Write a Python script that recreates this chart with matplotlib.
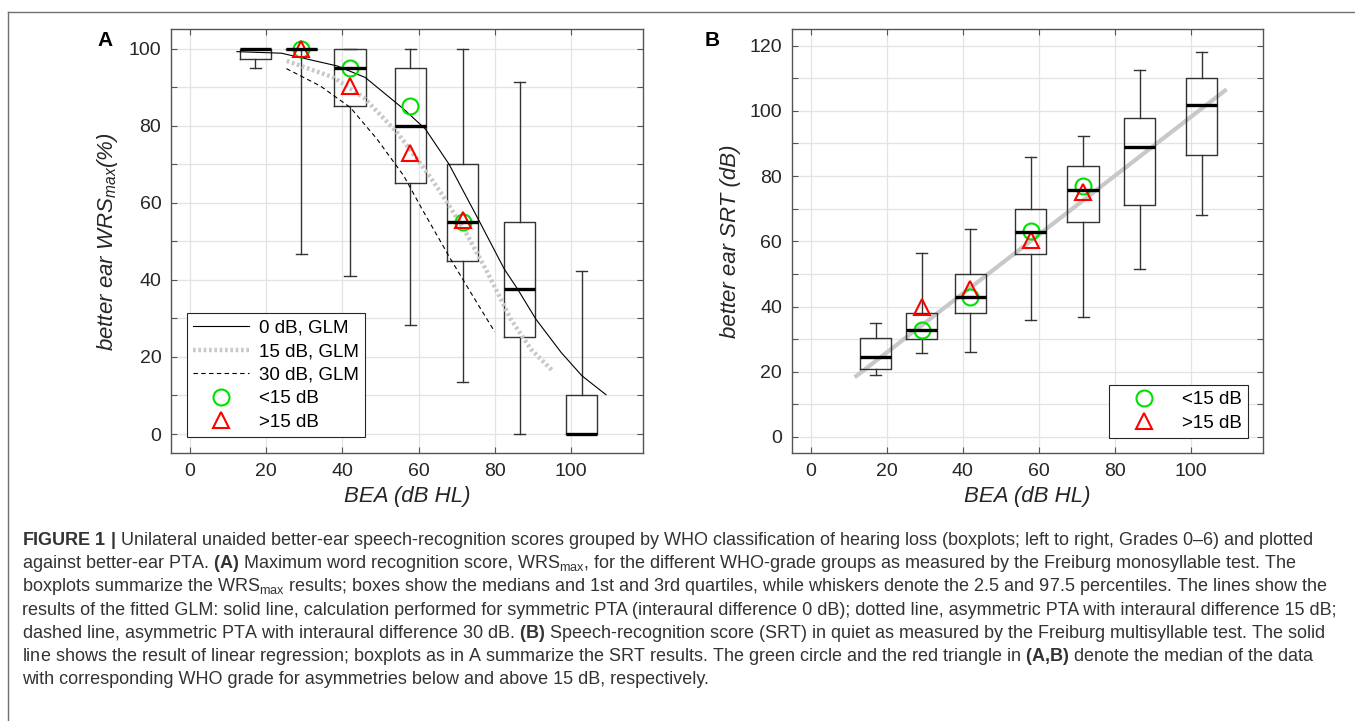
import numpy as np
import matplotlib
matplotlib.use("Agg")
import matplotlib.pyplot as plt
from matplotlib import font_manager
from matplotlib.lines import Line2D

names = {f.name for f in font_manager.fontManager.ttflist}
cap_font = 'Liberation Sans Narrow' if 'Liberation Sans Narrow' in names else 'Liberation Sans'

plt.rcParams['font.family'] = ['Liberation Sans', 'DejaVu Sans']
plt.rcParams['mathtext.fontset'] = 'custom'
plt.rcParams['mathtext.rm'] = cap_font
plt.rcParams['mathtext.bf'] = cap_font + ':bold'
plt.rcParams['mathtext.it'] = 'Liberation Sans:italic'

nan = np.nan
# median BEA of each WHO grade group (grades 0-6)
bea = [17.1, 29.2, 42.0, 57.8, 71.6, 86.5, 102.8]

# panel A: WRSmax boxplots
wrs_med = [100, 100, 95, 80, 55, 37.7, 0]
wrs_q1 = [97.3, 100, 85, 65.1, 45, 25.2, 0]
wrs_q3 = [100, 100, 100, 95, 70, 55.1, 10]
wrs_lo = [95, 46.7, 40.9, 28.3, 13.4, 0, 0]
wrs_hi = [100, 100, 100, 100, 100, 91.2, 42.2]
wrs_lt15 = [nan, 100, 95.0, 85.1, 55.0, nan, nan]
wrs_gt15 = [nan, 100, 90.3, 73.0, 55.5, nan, nan]

# GLM curves
glm0_x = [12.3, 24, 38.6, 46, 56.1, 61.8, 68, 75.9, 82.5, 86, 90.8, 97.4, 102.9, 109.2]
glm0_y = [99.2, 98.8, 95.5, 92.5, 84.3, 79.1, 70, 55.3, 42.8, 37.6, 29.8, 21.2, 15.1, 10.2]
glm15_x = [25.4, 37.7, 45.6, 54.4, 61, 65.8, 71.9, 78.1, 84.2, 89.5, 95.2]
glm15_y = [96.8, 92.5, 87.3, 78.2, 69.5, 62.7, 53.2, 41.9, 29.8, 22.0, 16.4]
glm30_x = [25.3, 34.2, 42.1, 49.1, 56.1, 61, 68.4, 73.7, 80]
glm30_y = [94.8, 90.3, 84.7, 76.5, 67, 58.2, 45.4, 36.7, 26.5]

# panel B: SRT boxplots
srt_med = [24.4, 32.9, 43.0, 63.0, 75.8, 88.9, 101.9]
srt_q1 = [21.0, 30.0, 37.9, 56.0, 65.9, 71.0, 86.5]
srt_q3 = [30.4, 37.9, 49.9, 69.9, 83.0, 97.9, 110.0]
srt_lo = [18.9, 25.9, 26.0, 36.0, 36.8, 51.5, 68.1]
srt_hi = [34.9, 56.3, 63.9, 86.0, 92.3, 112.4, 118.0]
srt_lt15 = [nan, 32.9, 42.8, 63.2, 77.1, nan, nan]
srt_gt15 = [nan, 40.0, 45.3, 60.4, 75.1, nan, nan]
srt_fit_x = [12.0, 108.9]
srt_fit_y = [18.7, 106.2]

caption = [
    r"$\mathbf{FIGURE\ 1\ |}$ Unilateral unaided better-ear speech-recognition scores grouped by WHO classification of hearing loss (boxplots; left to right, Grades 0–6) and plotted",
    r"against better-ear PTA. $\mathbf{(A)}$ Maximum word recognition score, WRS$_{\rm max}$, for the different WHO-grade groups as measured by the Freiburg monosyllable test. The",
    r"boxplots summarize the WRS$_{\rm max}$ results; boxes show the medians and 1st and 3rd quartiles, while whiskers denote the 2.5 and 97.5 percentiles. The lines show the",
    r"results of the fitted GLM: solid line, calculation performed for symmetric PTA (interaural difference 0 dB); dotted line, asymmetric PTA with interaural difference 15 dB;",
    r"dashed line, asymmetric PTA with interaural difference 30 dB. $\mathbf{(B)}$ Speech-recognition score (SRT) in quiet as measured by the Freiburg multisyllable test. The solid",
    r"line shows the result of linear regression; boxplots as in A summarize the SRT results. The green circle and the red triangle in $\mathbf{(A{,}B)}$ denote the median of the data",
    r"with corresponding WHO grade for asymmetries below and above 15 dB, respectively.",
]

W, H = 1355, 721
fig = plt.figure(figsize=(W / 100, H / 100), dpi=100)


def boxes(ax, med, q1, q3, lo, hi):
    stats = []
    for m, a, b, l, h in zip(med, q1, q3, lo, hi):
        stats.append(dict(med=m, q1=a, q3=b, whislo=l, whishi=h, fliers=[]))
    ax.bxp(stats, positions=bea, widths=8.2, capwidths=2.9, showfliers=False,
           manage_ticks=False,
           boxprops=dict(color='#333333', lw=1.0),
           whiskerprops=dict(color='#333333', lw=1.0),
           capprops=dict(color='#333333', lw=1.0),
           medianprops=dict(color='black', lw=2.4, solid_capstyle='butt'))


def style(ax, ymax, ystep_lab):
    ax.set_xlim(-5, 119)
    ax.set_xticks(range(0, 101, 20))
    ax.set_yticks(range(0, ymax + 1, 10))
    ax.set_yticklabels([str(v) if v % ystep_lab == 0 else '' for v in range(0, ymax + 1, 10)])
    ax.grid(True, color='#e3e3e3', lw=0.9)
    ax.set_axisbelow(True)
    ax.tick_params(direction='in', top=True, right=True, length=4, width=0.8,
                   color='#555555', labelsize=14, labelcolor='#262626', pad=7)
    for s in ax.spines.values():
        s.set_color('#555555')
        s.set_linewidth(1.0)
    ax.set_xlabel('BEA (dB HL)', fontsize=16, style='italic', color='#262626', labelpad=4)


mk = dict(ls='none', ms=11.5, mfc='none', mew=1.5)
leg_kw = dict(fontsize=13.5, handlelength=3.0, handletextpad=0.5, labelspacing=0.34,
              borderpad=0.35, fancybox=False, framealpha=1, edgecolor='#262626', borderaxespad=0)

# panel A
axA = fig.add_axes([171 / W, 1 - 453.3 / H, 472.3 / W, 424 / H])
boxes(axA, wrs_med, wrs_q1, wrs_q3, wrs_lo, wrs_hi)
axA.plot(glm0_x, glm0_y, color='black', lw=0.8, label='0 dB, GLM')
axA.plot(glm15_x, glm15_y, color='#c8c8c8', lw=3.2, ls=(0, (0.6, 0.6)), label='15 dB, GLM')
axA.plot(glm30_x, glm30_y, color='black', lw=0.8, ls=(0, (4, 3)), label='30 dB, GLM')
axA.plot(bea, wrs_lt15, marker='o', mec='#00e000', label='<15 dB', **mk)
axA.plot(bea, wrs_gt15, marker='^', mec='#ff0000', label='>15 dB', **mk)
axA.set_ylim(-5, 105)
style(axA, 100, 20)
axA.set_ylabel(r'better ear WRS$_{max}$(%)', fontsize=16, style='italic', color='#262626', labelpad=6)
legA = axA.legend(loc='lower left', bbox_to_anchor=(0.033, 0.038), **leg_kw)
legA.get_frame().set_linewidth(0.8)

# panel B
axB = fig.add_axes([791.7 / W, 1 - 453.3 / H, 471.6 / W, 424 / H])
boxes(axB, srt_med, srt_q1, srt_q3, srt_lo, srt_hi)
axB.plot(srt_fit_x, srt_fit_y, color='#c8c8c8', lw=3.0, zorder=1.5)
axB.plot(bea, srt_lt15, marker='o', mec='#00e000', label='<15 dB', **mk)
axB.plot(bea, srt_gt15, marker='^', mec='#ff0000', label='>15 dB', **mk)
axB.set_ylim(-5, 125)
style(axB, 120, 20)
axB.set_ylabel('better ear SRT (dB)', fontsize=16, style='italic', color='#262626', labelpad=6)
legB = axB.legend(loc='lower right', bbox_to_anchor=(0.9676, 0.035), **leg_kw)
legB.get_frame().set_linewidth(0.8)

fig.text(105 / W, 1 - 40 / H, 'A', fontsize=15, fontweight='bold', ha='center', va='center')
fig.text(712 / W, 1 - 40 / H, 'B', fontsize=15, fontweight='bold', ha='center', va='center')

# figure frame
fig.add_artist(Line2D([8 / W, 1], [1 - 11.7 / H] * 2, color='#707070', lw=1.0))
fig.add_artist(Line2D([8 / W] * 2, [0, 1 - 11.7 / H], color='#707070', lw=1.0))

# caption: fit the font size so the longest line spans the reference width
texts = []
for i, line in enumerate(caption):
    t = fig.text(22 / W, 1 - (545 + 23.17 * i) / H, line, fontsize=12, family=cap_font,
                 color='#333333', ha='left', va='baseline')
    texts.append(t)
r = fig.canvas.get_renderer()
wd = texts[3].get_window_extent(r).width
fs = 12 * 1318 / wd
for t in texts:
    t.set_fontsize(fs)

fig.savefig('out.png', dpi=100)
